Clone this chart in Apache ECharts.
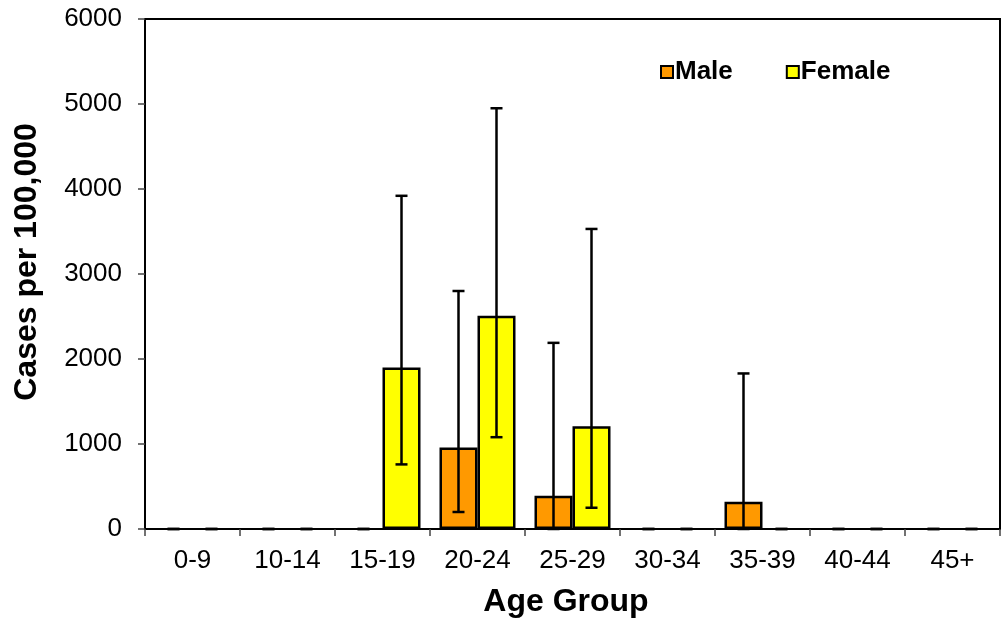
<!DOCTYPE html>
<html>
<head>
<meta charset="utf-8">
<script src="https://cdn.jsdelivr.net/npm/echarts@6/dist/echarts.min.js"></script>
<style>html,body{margin:0;padding:0;background:#fff;}#c{width:1005px;height:621px;}</style>
</head>
<body>
<div id="c"></div>
<script>
var categories = ['0-9','10-14','15-19','20-24','25-29','30-34','35-39','40-44','45+'];
var male       = [0, 0, 0, 960, 390, 0, 320, 0, 0];
var maleLow    = [0, 0, 0, 200, 0, 0, 0, 0, 0];
var maleHigh   = [0, 0, 0, 2800, 2190, 0, 1830, 0, 0];
var female     = [0, 0, 1900, 2510, 1210, 0, 0, 0, 0];
var femaleLow  = [0, 0, 760, 1080, 250, 0, 0, 0, 0];
var femaleHigh = [0, 0, 3920, 4950, 3530, 0, 0, 0, 0];
var yTicks = [0, 1000, 2000, 3000, 4000, 5000, 6000];

var FONT = 'Liberation Sans, Arial, sans-serif';

function barData(vals) {
  return vals.map(function (v) { return v === 0 ? { value: 0, itemStyle: { borderWidth: 0 } } : v; });
}
function errData(low, high) {
  return categories.map(function (c, i) { return [i, low[i], high[i]]; });
}
function errRender(sign) {
  return function (params, api) {
    var i = api.value(0);
    var catW = api.size([1, 0])[0];
    var off = sign * catW * 0.2;
    var lo = api.coord([i, api.value(1)]);
    var hi = api.coord([i, api.value(2)]);
    var x = lo[0] + off;
    var cap = 6;
    var st = { stroke: '#000', lineWidth: 2.5 };
    return {
      type: 'group',
      children: [
        { type: 'line', shape: { x1: x, y1: lo[1], x2: x, y2: hi[1] }, style: st },
        { type: 'line', shape: { x1: x - cap, y1: hi[1], x2: x + cap, y2: hi[1] }, style: st },
        { type: 'line', shape: { x1: x - cap, y1: lo[1], x2: x + cap, y2: lo[1] }, style: st }
      ]
    };
  };
}

var chart = echarts.init(document.getElementById('c'), null, { renderer: 'canvas' });
chart.setOption({
  animation: false,
  backgroundColor: '#fff',
  grid: { left: 145, right: 5, top: 19, bottom: 92, show: true, borderColor: '#000', borderWidth: 2, containLabel: false },
  legend: {
    data: ['Male', 'Female'],
    left: 655, top: 54,
    itemWidth: 12, itemHeight: 12, itemGap: 53,
    icon: 'rect',
    textStyle: { fontFamily: FONT, fontSize: 26, fontWeight: 'bold', color: '#000', padding: [0, 0, 0, -3] },
    itemStyle: { borderColor: '#000', borderWidth: 2 }
  },
  xAxis: {
    type: 'category',
    data: categories,
    axisLine: { lineStyle: { color: '#000', width: 2 } },
    axisTick: { show: true, length: 7, lineStyle: { color: '#444', width: 1.5 } },
    axisLabel: { fontFamily: FONT, fontSize: 26, color: '#000', margin: 19 },
    splitLine: { show: false }
  },
  yAxis: {
    type: 'value',
    min: 0, max: 6000, interval: 1000,
    axisLine: { show: true, lineStyle: { color: '#000', width: 2 } },
    axisTick: { show: true, length: 7, lineStyle: { color: '#444', width: 1.5 } },
    axisLabel: { fontFamily: FONT, fontSize: 26, color: '#000', margin: 23,
      formatter: function (v) { return yTicks.indexOf(v) >= 0 ? String(v) : ''; } },
    splitLine: { show: false }
  },
  graphic: [
    { type: 'text', x: 566, y: 602, style: { text: 'Age Group', font: 'bold 32px ' + FONT, fill: '#000', align: 'center', verticalAlign: 'middle' } },
    { type: 'text', x: 27, y: 262, rotation: Math.PI / 2, style: { text: 'Cases per 100,000', font: 'bold 32px ' + FONT, fill: '#000', align: 'center', verticalAlign: 'middle' } }
  ],
  series: [
    { name: 'Male', type: 'bar', data: barData(male), barGap: '0%', barCategoryGap: '20%',
      itemStyle: { color: '#FF9900', borderColor: '#000', borderWidth: 2.5 } },
    { name: 'Female', type: 'bar', data: barData(female),
      itemStyle: { color: '#FFFF00', borderColor: '#000', borderWidth: 2.5 } },
    { name: 'maleErr', type: 'custom', data: errData(maleLow, maleHigh), renderItem: errRender(-1), z: 10,
      encode: { x: 0, y: [1, 2] } },
    { name: 'femaleErr', type: 'custom', data: errData(femaleLow, femaleHigh), renderItem: errRender(1), z: 10,
      encode: { x: 0, y: [1, 2] } }
  ]
});
</script>
</body>
</html>
